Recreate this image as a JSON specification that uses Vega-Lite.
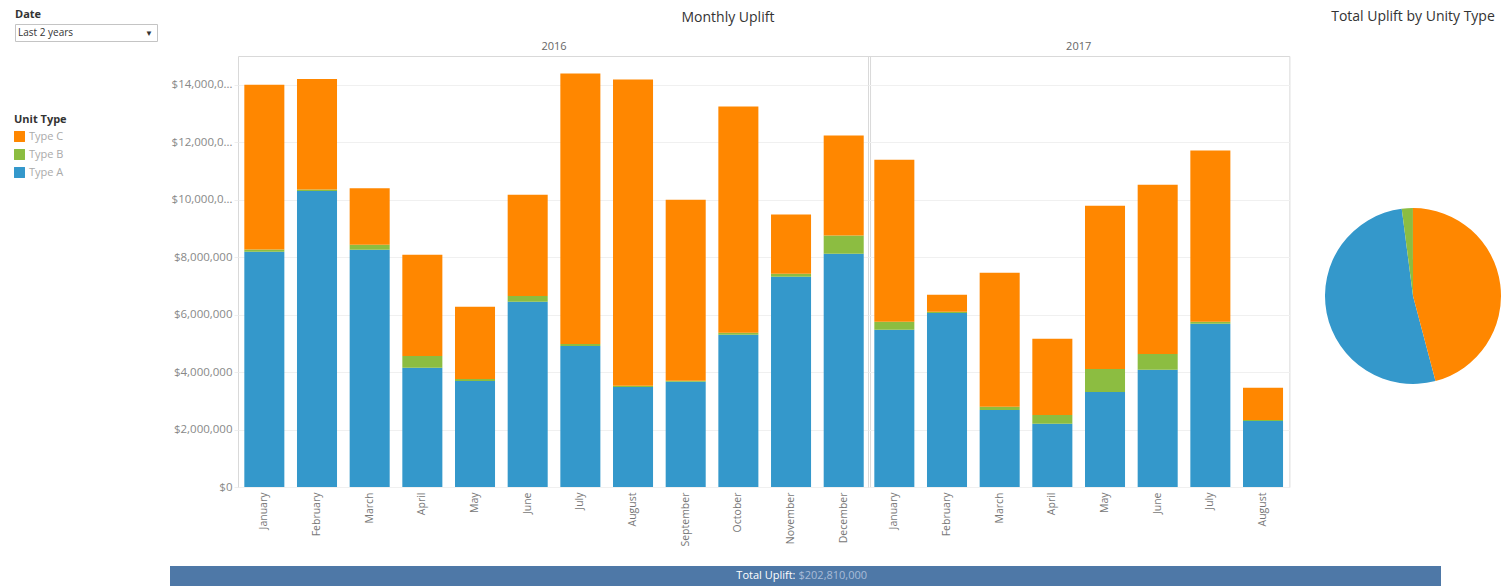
{
  "$schema": "https://vega.github.io/schema/vega-lite/v6.json",
  "padding": {"left": 14, "top": 8, "right": 0, "bottom": 0},
  "background": "white",
  "config": {
    "font": "Open Sans",
    "view": {"stroke": null},
    "title": {"fontSize": 14, "fontWeight": "normal", "color": "#333333", "font": "Open Sans"},
    "axis": {"labelFont": "Open Sans"}
  },
  "datasets": {
    "uplift": [
      {"year": "2016", "month": "January", "type": "Type A", "uplift": 8190000},
      {"year": "2016", "month": "January", "type": "Type B", "uplift": 80000},
      {"year": "2016", "month": "January", "type": "Type C", "uplift": 5730000},
      {"year": "2016", "month": "February", "type": "Type A", "uplift": 10300000},
      {"year": "2016", "month": "February", "type": "Type B", "uplift": 50000},
      {"year": "2016", "month": "February", "type": "Type C", "uplift": 3850000},
      {"year": "2016", "month": "March", "type": "Type A", "uplift": 8260000},
      {"year": "2016", "month": "March", "type": "Type B", "uplift": 170000},
      {"year": "2016", "month": "March", "type": "Type C", "uplift": 1970000},
      {"year": "2016", "month": "April", "type": "Type A", "uplift": 4150000},
      {"year": "2016", "month": "April", "type": "Type B", "uplift": 410000},
      {"year": "2016", "month": "April", "type": "Type C", "uplift": 3520000},
      {"year": "2016", "month": "May", "type": "Type A", "uplift": 3690000},
      {"year": "2016", "month": "May", "type": "Type B", "uplift": 70000},
      {"year": "2016", "month": "May", "type": "Type C", "uplift": 2510000},
      {"year": "2016", "month": "June", "type": "Type A", "uplift": 6450000},
      {"year": "2016", "month": "June", "type": "Type B", "uplift": 200000},
      {"year": "2016", "month": "June", "type": "Type C", "uplift": 3520000},
      {"year": "2016", "month": "July", "type": "Type A", "uplift": 4910000},
      {"year": "2016", "month": "July", "type": "Type B", "uplift": 70000},
      {"year": "2016", "month": "July", "type": "Type C", "uplift": 9410000},
      {"year": "2016", "month": "August", "type": "Type A", "uplift": 3480000},
      {"year": "2016", "month": "August", "type": "Type B", "uplift": 40000},
      {"year": "2016", "month": "August", "type": "Type C", "uplift": 10660000},
      {"year": "2016", "month": "September", "type": "Type A", "uplift": 3660000},
      {"year": "2016", "month": "September", "type": "Type B", "uplift": 40000},
      {"year": "2016", "month": "September", "type": "Type C", "uplift": 6300000},
      {"year": "2016", "month": "October", "type": "Type A", "uplift": 5300000},
      {"year": "2016", "month": "October", "type": "Type B", "uplift": 70000},
      {"year": "2016", "month": "October", "type": "Type C", "uplift": 7870000},
      {"year": "2016", "month": "November", "type": "Type A", "uplift": 7320000},
      {"year": "2016", "month": "November", "type": "Type B", "uplift": 100000},
      {"year": "2016", "month": "November", "type": "Type C", "uplift": 2060000},
      {"year": "2016", "month": "December", "type": "Type A", "uplift": 8120000},
      {"year": "2016", "month": "December", "type": "Type B", "uplift": 630000},
      {"year": "2016", "month": "December", "type": "Type C", "uplift": 3480000},
      {"year": "2017", "month": "January", "type": "Type A", "uplift": 5470000},
      {"year": "2017", "month": "January", "type": "Type B", "uplift": 280000},
      {"year": "2017", "month": "January", "type": "Type C", "uplift": 5640000},
      {"year": "2017", "month": "February", "type": "Type A", "uplift": 6060000},
      {"year": "2017", "month": "February", "type": "Type B", "uplift": 40000},
      {"year": "2017", "month": "February", "type": "Type C", "uplift": 590000},
      {"year": "2017", "month": "March", "type": "Type A", "uplift": 2680000},
      {"year": "2017", "month": "March", "type": "Type B", "uplift": 110000},
      {"year": "2017", "month": "March", "type": "Type C", "uplift": 4670000},
      {"year": "2017", "month": "April", "type": "Type A", "uplift": 2200000},
      {"year": "2017", "month": "April", "type": "Type B", "uplift": 310000},
      {"year": "2017", "month": "April", "type": "Type C", "uplift": 2650000},
      {"year": "2017", "month": "May", "type": "Type A", "uplift": 3310000},
      {"year": "2017", "month": "May", "type": "Type B", "uplift": 800000},
      {"year": "2017", "month": "May", "type": "Type C", "uplift": 5680000},
      {"year": "2017", "month": "June", "type": "Type A", "uplift": 4080000},
      {"year": "2017", "month": "June", "type": "Type B", "uplift": 550000},
      {"year": "2017", "month": "June", "type": "Type C", "uplift": 5890000},
      {"year": "2017", "month": "July", "type": "Type A", "uplift": 5680000},
      {"year": "2017", "month": "July", "type": "Type B", "uplift": 70000},
      {"year": "2017", "month": "July", "type": "Type C", "uplift": 5960000},
      {"year": "2017", "month": "August", "type": "Type A", "uplift": 2300000},
      {"year": "2017", "month": "August", "type": "Type B", "uplift": 30000},
      {"year": "2017", "month": "August", "type": "Type C", "uplift": 1120000}
    ]
  },
  "spacing": -32,
  "vconcat": [
    {
      "width": 142,
      "height": 17,
      "title": {"text": "Date", "anchor": "start", "fontSize": 11, "fontWeight": "bold", "color": "#333333", "offset": 4},
      "view": {"stroke": "#c4c4c4", "fill": "white"},
      "data": {"values": [{"label": "Last 2 years"}]},
      "layer": [
        {"mark": {"type": "text", "align": "left", "dx": -68, "fontSize": 10, "color": "#333333"}, "encoding": {"text": {"field": "label"}}},
        {"mark": {"type": "text", "align": "center", "dx": 63, "dy": 1, "fontSize": 8, "color": "#333333", "text": "▼"}, "encoding": {}}
      ]
    },
    {
      "spacing": 19,
      "vconcat": [
        {
          "spacing": 8,
          "hconcat": [
            {
              "width": 143,
              "height": 10,
              "data": {"values": [{}]},
              "mark": {"type": "rect", "opacity": 0},
              "encoding": {}
            },
            {
              "data": {"name": "uplift"},
              "title": {"text": "Monthly Uplift", "anchor": "middle", "frame": "bounds", "offset": 16},
              "facet": {
                "column": {
                  "field": "year", "type": "nominal", "title": null,
                  "header": {"labelOrient": "top", "labelFontSize": 11, "labelColor": "#666666", "labelPadding": 4, "labelFont": "Open Sans"}
                }
              },
              "spacing": {"column": -3},
              "bounds": "flush",
              "resolve": {"scale": {"x": "independent"}},
              "spec": {
                "width": {"step": 52.67},
                "height": 431,
                "view": {"stroke": "#d9d9d9"},
                "mark": {"type": "bar"},
                "encoding": {
                  "x": {
                    "field": "month", "type": "nominal",
                    "sort": ["January", "February", "March", "April", "May", "June", "July", "August", "September", "October", "November", "December"],
                    "scale": {"paddingInner": 0.24, "paddingOuter": 0.12},
                    "axis": {"title": null, "labelAngle": -90, "labelFontSize": 10.5, "labelColor": "#777777", "ticks": false, "domain": false, "labelPadding": 5}
                  },
                  "y": {
                    "field": "uplift", "type": "quantitative", "aggregate": "sum", "stack": "zero",
                    "scale": {"domain": [0, 15000000], "nice": false},
                    "axis": {
                      "title": null, "values": [0, 2000000, 4000000, 6000000, 8000000, 10000000, 12000000, 14000000],
                      "format": "$,.0f", "labelLimit": 62, "labelColor": "#888888", "labelFontSize": 11.5,
                      "gridColor": "#f0f0f0", "domain": false, "tickColor": "#eeeeee", "tickSize": 4,
                      "minExtent": 72, "maxExtent": 72
                    }
                  },
                  "color": {
                    "field": "type", "type": "nominal",
                    "scale": {"domain": ["Type C", "Type B", "Type A"], "range": ["#ff8700", "#8cbd41", "#3498cb"]},
                    "legend": {"orient": "none", "legendX": -1, "legendY": 90, "title": "Unit Type", "titleFontSize": 11, "titleFontWeight": "bold", "titleColor": "#333333", "symbolType": "square", "symbolSize": 120, "symbolStrokeWidth": 0, "labelFontSize": 11, "labelColor": "#aaaaaa", "rowPadding": 6, "titlePadding": 6}
                  },
                  "order": {"field": "type", "sort": "ascending"}
                }
              }
            },
            {
              "data": {"name": "uplift"},
              "width": 230,
              "height": 480,
              "title": {"text": "Total Uplift by Unity Type", "anchor": "middle", "offset": 32},
              "mark": {"type": "arc", "outerRadius": 88},
              "encoding": {
                "theta": {"field": "uplift", "type": "quantitative", "aggregate": "sum", "stack": true, "scale": {"range": [2.883, 9.166]}},
                "color": {
                  "field": "type", "type": "nominal",
                  "scale": {"domain": ["Type C", "Type B", "Type A"], "range": ["#ff8700", "#8cbd41", "#3498cb"]},
                  "legend": {"orient": "none", "legendX": -1, "legendY": 90, "title": "Unit Type", "titleFontSize": 11, "titleFontWeight": "bold", "titleColor": "#333333", "symbolType": "square", "symbolSize": 120, "symbolStrokeWidth": 0, "labelFontSize": 11, "labelColor": "#aaaaaa", "rowPadding": 6, "titlePadding": 6}
                },
                "order": {"field": "type", "sort": "ascending"}
              }
            }
          ]
        },
        {
          "spacing": 0,
          "hconcat": [
            {
              "width": 155,
              "height": 20,
              "data": {"values": [{}]},
              "mark": {"type": "rect", "opacity": 0},
              "encoding": {}
            },
            {
              "width": 1271,
              "height": 20,
              "view": {"fill": "#4e78a7", "stroke": null},
              "layer": [
                {
                  "data": {"values": [{"label": "Total Uplift:"}]},
                  "mark": {"type": "text", "align": "right", "dx": -10, "fontSize": 11, "color": "white"},
                  "encoding": {"text": {"field": "label"}}
                },
                {
                  "data": {"name": "uplift"},
                  "mark": {"type": "text", "align": "left", "dx": -7, "fontSize": 11, "color": "#a9bcd8"},
                  "encoding": {"text": {"field": "uplift", "aggregate": "sum", "type": "quantitative", "format": "$,.0f"}}
                }
              ]
            }
          ]
        }
      ]
    }
  ]
}
